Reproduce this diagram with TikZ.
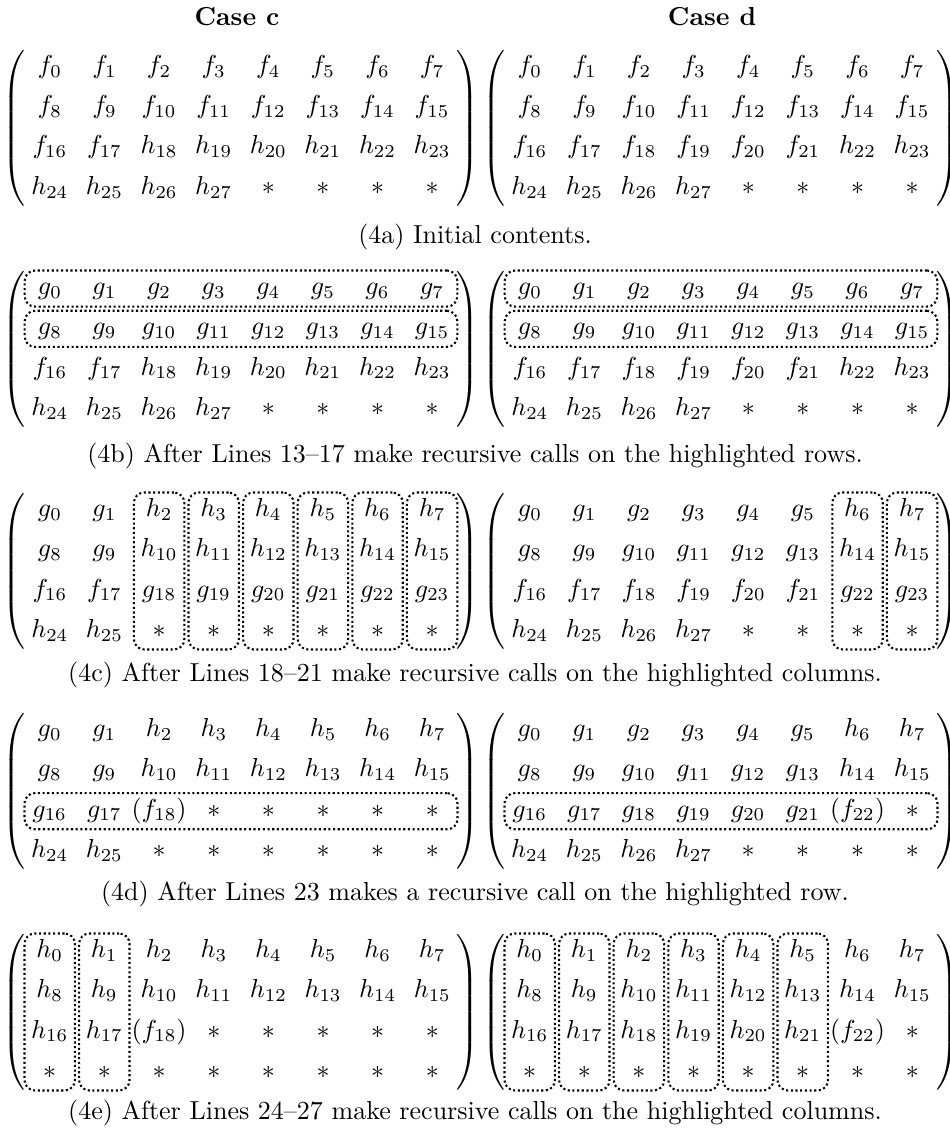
\documentclass[tikz,border=0pt]{standalone}
\usepackage{amsmath}
\usetikzlibrary{matrix, fit}

\newcommand{\matlp}{$\left(\vcenter{\hrule height 31pt depth 31pt width 0pt}\right.$}
\newcommand{\matrp}{$\left.\vcenter{\hrule height 31pt depth 31pt width 0pt}\right)$}

\begin{document}
\begin{tikzpicture}[
  x=0.3846pt, y=-0.3846pt,
  mat/.style ={matrix of math nodes, inner sep=0pt, row sep=0pt, column sep=0pt,
               cells={nodes={minimum width=21pt, text height=7.5pt, text depth=3pt,
                             inner xsep=0pt, inner ysep=2.5pt}}},
  lpar/.style={inner sep=0pt, anchor=east},
  rpar/.style={inner sep=0pt, anchor=west},
  hl/.style  ={draw, densely dotted, line width=0.8pt, rounded corners=4pt, inner sep=-1pt},
  ttl/.style ={font=\bfseries},
]
\useasboundingbox (0,0) rectangle (950,1140);

% --- Titles ---
\node[ttl] (tc) at (237,17) {Case c};
\node[ttl] (td) at (712,17) {Case d};

% --- (4a) initial contents ---
\matrix (ca) [mat] at (241,128) {
  f_0    & f_1    & f_2    & f_3    & f_4    & f_5    & f_6    & f_7    \\
  f_8    & f_9    & f_{10} & f_{11} & f_{12} & f_{13} & f_{14} & f_{15} \\
  f_{16} & f_{17} & h_{18} & h_{19} & h_{20} & h_{21} & h_{22} & h_{23} \\
  h_{24} & h_{25} & h_{26} & h_{27} & *      & *      & *      & *      \\
};
\matrix (da) [mat] at (721,128) {
  f_0    & f_1    & f_2    & f_3    & f_4    & f_5    & f_6    & f_7    \\
  f_8    & f_9    & f_{10} & f_{11} & f_{12} & f_{13} & f_{14} & f_{15} \\
  f_{16} & f_{17} & f_{18} & f_{19} & f_{20} & f_{21} & h_{22} & h_{23} \\
  h_{24} & h_{25} & h_{26} & h_{27} & *      & *      & *      & *      \\
};
\node (capa) at (475,237) {(4a) Initial contents.};

% --- (4b) rows ---
\matrix (cb) [mat] at (241,349) {
  g_0    & g_1    & g_2    & g_3    & g_4    & g_5    & g_6    & g_7    \\
  g_8    & g_9    & g_{10} & g_{11} & g_{12} & g_{13} & g_{14} & g_{15} \\
  f_{16} & f_{17} & h_{18} & h_{19} & h_{20} & h_{21} & h_{22} & h_{23} \\
  h_{24} & h_{25} & h_{26} & h_{27} & *      & *      & *      & *      \\
};
\matrix (db) [mat] at (721,349) {
  g_0    & g_1    & g_2    & g_3    & g_4    & g_5    & g_6    & g_7    \\
  g_8    & g_9    & g_{10} & g_{11} & g_{12} & g_{13} & g_{14} & g_{15} \\
  f_{16} & f_{17} & f_{18} & f_{19} & f_{20} & f_{21} & h_{22} & h_{23} \\
  h_{24} & h_{25} & h_{26} & h_{27} & *      & *      & *      & *      \\
};
\foreach \r in {1,2} {
  \node[hl, fit=(cb-\r-1)(cb-\r-8)] (cb-row\r) {};
  \node[hl, fit=(db-\r-1)(db-\r-8)] (db-row\r) {};
}
\node (capb) at (475,456) {(4b) After Lines 13--17 make recursive calls on the highlighted rows.};

% --- (4c) columns ---
\matrix (cc) [mat] at (241,571) {
  g_0    & g_1    & h_2    & h_3    & h_4    & h_5    & h_6    & h_7    \\
  g_8    & g_9    & h_{10} & h_{11} & h_{12} & h_{13} & h_{14} & h_{15} \\
  f_{16} & f_{17} & g_{18} & g_{19} & g_{20} & g_{21} & g_{22} & g_{23} \\
  h_{24} & h_{25} & *      & *      & *      & *      & *      & *      \\
};
\matrix (dc) [mat] at (721,571) {
  g_0    & g_1    & g_2    & g_3    & g_4    & g_5    & h_6    & h_7    \\
  g_8    & g_9    & g_{10} & g_{11} & g_{12} & g_{13} & h_{14} & h_{15} \\
  f_{16} & f_{17} & f_{18} & f_{19} & f_{20} & f_{21} & g_{22} & g_{23} \\
  h_{24} & h_{25} & h_{26} & h_{27} & *      & *      & *      & *      \\
};
\foreach \c in {3,...,8}
  \node[hl, fit=(cc-1-\c)(cc-4-\c)] (cc-col\c) {};
\foreach \c in {7,8}
  \node[hl, fit=(dc-1-\c)(dc-4-\c)] (dc-col\c) {};
\node (capc) at (475,675) {(4c) After Lines 18--21 make recursive calls on the highlighted columns.};

% --- (4d) row ---
\matrix (cd) [mat] at (241,791) {
  g_0    & g_1    & h_2      & h_3    & h_4    & h_5    & h_6    & h_7    \\
  g_8    & g_9    & h_{10}   & h_{11} & h_{12} & h_{13} & h_{14} & h_{15} \\
  g_{16} & g_{17} & (f_{18}) & *      & *      & *      & *      & *      \\
  h_{24} & h_{25} & *        & *      & *      & *      & *      & *      \\
};
\matrix (dd) [mat] at (721,791) {
  g_0    & g_1    & g_2    & g_3    & g_4    & g_5    & h_6      & h_7    \\
  g_8    & g_9    & g_{10} & g_{11} & g_{12} & g_{13} & h_{14}   & h_{15} \\
  g_{16} & g_{17} & g_{18} & g_{19} & g_{20} & g_{21} & (f_{22}) & *      \\
  h_{24} & h_{25} & h_{26} & h_{27} & *      & *      & *        & *      \\
};
\node[hl, fit=(cd-3-1)(cd-3-8)] (cd-row3) {};
\node[hl, fit=(dd-3-1)(dd-3-8)] (dd-row3) {};
\node (capd) at (475,894) {(4d) After Lines 23 makes a recursive call on the highlighted row.};

% --- (4e) columns ---
\matrix (ce) [mat] at (241,1012) {
  h_0    & h_1    & h_2      & h_3    & h_4    & h_5    & h_6    & h_7    \\
  h_8    & h_9    & h_{10}   & h_{11} & h_{12} & h_{13} & h_{14} & h_{15} \\
  h_{16} & h_{17} & (f_{18}) & *      & *      & *      & *      & *      \\
  *      & *      & *        & *      & *      & *      & *      & *      \\
};
\matrix (de) [mat] at (721,1012) {
  h_0    & h_1    & h_2    & h_3    & h_4    & h_5    & h_6      & h_7    \\
  h_8    & h_9    & h_{10} & h_{11} & h_{12} & h_{13} & h_{14}   & h_{15} \\
  h_{16} & h_{17} & h_{18} & h_{19} & h_{20} & h_{21} & (f_{22}) & *      \\
  *      & *      & *      & *      & *      & *      & *        & *      \\
};
\foreach \c in {1,2}
  \node[hl, fit=(ce-1-\c)(ce-4-\c)] (ce-col\c) {};
\foreach \c in {1,...,6}
  \node[hl, fit=(de-1-\c)(de-4-\c)] (de-col\c) {};
\node (cape) at (475,1113) {(4e) After Lines 24--27 make recursive calls on the highlighted columns.};

% --- Parentheses round every matrix ---
\foreach \m in {ca,da,cb,db,cc,dc,cd,dd,ce,de} {
  \node[lpar] (\m-lp) at ([xshift=2.8pt]\m.west) {\matlp};
  \node[rpar] (\m-rp) at ([xshift=-2.8pt]\m.east) {\matrp};
}
\end{tikzpicture}
\end{document}
